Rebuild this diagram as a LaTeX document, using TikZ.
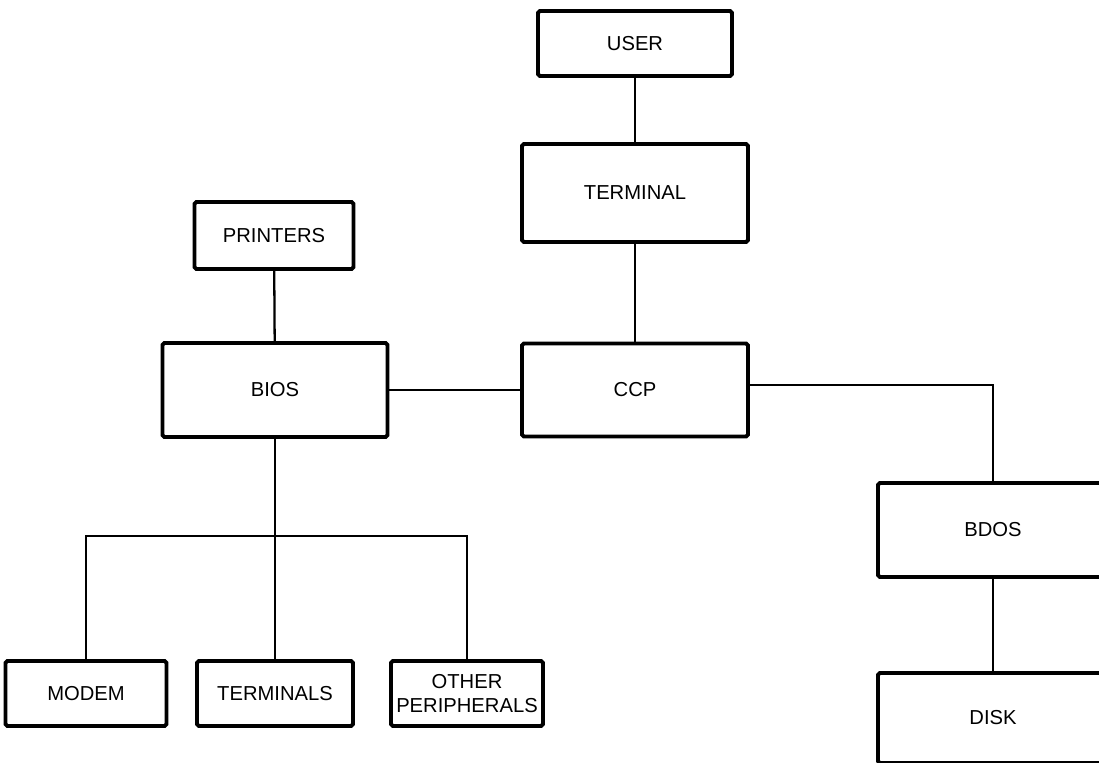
\documentclass[tikz,border=0pt]{standalone}
\usepackage{fontspec}
\setmainfont{Liberation Sans}
\usetikzlibrary{positioning}

\tikzset{
    block/.style={draw, line width=2.2pt, rounded corners=1pt, inner sep=0pt, align=center, font=\fontsize{11.5}{14}\selectfont},
    link/.style={line width=1.3pt},
}

\begin{document}
\begin{tikzpicture}[x=0.02cm, y=-0.02cm]
        \useasboundingbox (0,0) rectangle (1099,763);
        \fill[white] (0,0) rectangle (1099,763);
        \clip (0,0) rectangle (1099,763);
        % Nodes
        \node (user) at (635,43.5) [block, minimum width=3.88cm, minimum height=1.3cm] {USER};
        \node (terminal) at (635,193) [block, minimum width=4.52cm, minimum height=1.96cm] {TERMINAL};
        \node (printers) at (274,235.5) [block, minimum width=3.18cm, minimum height=1.34cm] {PRINTERS};
        \node (bios) at (275,390) [block, minimum width=4.5cm, minimum height=1.88cm] {BIOS};
        \node (ccp) at (635,390) [block, minimum width=4.52cm, minimum height=1.86cm] {CCP};
        \node (bdos) at (993,530) [block, minimum width=4.6cm, minimum height=1.88cm] {BDOS};
        \node (disk) at (993,718) [block, minimum width=4.6cm, minimum height=1.8cm] {DISK};
        % Lower nodes
        \node (modem) at (86,693.5) [block, minimum width=3.22cm, minimum height=1.3cm] {MODEM};
        \node (terminals) at (275,693.5) [block, minimum width=3.12cm, minimum height=1.3cm] {TERMINALS};
        \node (other) at (467,693.5) [block, minimum width=3.04cm, minimum height=1.3cm] {OTHER\\PERIPHERALS};
        \coordinate (bar) at (275,536);

        % Edges
        \draw[link] (user) -- (terminal);
        \draw[link] (terminal) -- (ccp);
        \draw[link] (printers) -- (bios);
        \draw[link] (bios) -- (ccp);
        \draw[link] ([yshift=0.1cm]ccp.east) -| (bdos.north);
        \draw[link] (bdos) -- (disk);
        \draw[link] (bios) -- (bar);
        \foreach \n in {modem,terminals,other} {
            \draw[link] (bar) -| (\n.north);
        }

    \end{tikzpicture}
\end{document}
